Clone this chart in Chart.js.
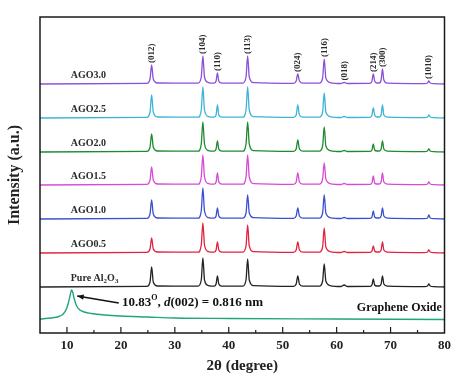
<!DOCTYPE html>
<html>
<head>
<meta charset="utf-8">
<script src="https://cdn.jsdelivr.net/npm/chart.js@4.4.1/dist/chart.umd.min.js"></script>
<style>
  html, body { margin: 0; padding: 0; background: #ffffff; }
  #wrap { width: 456px; height: 376px; }
</style>
</head>
<body>
<div id="wrap"><canvas id="xrd" width="456" height="376"></canvas></div>
<script>
// 2θ sampling shared by the alumina-based patterns (points around each reflection)
const twoTheta = [
  5,
  24.8, 25.4, 25.7, 26.0, 26.8,
  34.3, 34.9, 35.2, 35.5, 36.2,
  37.3, 37.65, 37.9, 38.15, 38.7,
  42.6, 43.2, 43.5, 43.8, 44.6,
  52.0, 52.5, 52.8, 53.1, 53.8,
  56.8, 57.4, 57.7, 58.0, 58.9,
  60.8, 61.4, 62.0,
  66.2, 66.55, 66.8, 67.05, 67.45,
  67.9, 68.25, 68.5, 68.75, 69.4,
  76.3, 76.85, 77.1, 77.35, 78.1,
  80
];

// Intensities (a.u.) above each pattern's own baseline
const ago30 = [0, 0.6,5,19,5,1, 0.8,7,28,7,1.4, 0.8,3,11,3,0.8, 0.8,7,28,7,1.4, 0.6,3,10,3,0.8, 0.8,6,25,6,1.2, 0.5,1.5,0.5, 0.6,3,10,3,1, 1,4,15,4,0.8, 0.4,1,3,1,0.3, 0];
const ago25 = [0, 0.6,6,23,6,1, 0.8,8,31,8,1.4, 0.8,3,13,3,0.8, 0.8,8,31,8,1.4, 0.6,3,13,3,0.8, 0.8,6,25,6,1.2, 0.5,1.5,0.5, 0.6,3,10,3,1, 1,3,13,3,0.8, 0.4,1,3,1,0.3, 0];
const ago20 = [0, 0.6,5,18,5,1, 0.8,8,30,8,1.4, 0.8,3,11,3,0.8, 0.8,8,30,8,1.4, 0.6,3,12,3,0.8, 0.8,6,25,6,1.2, 0.5,1.5,0.5, 0.6,2,8,2,1, 1,3,11,3,0.8, 0.4,1,3,1,0.3, 0];
const ago15 = [0, 0.6,5,18,5,1, 0.8,8,30,8,1.4, 0.8,3,12,3,0.8, 0.8,8,30,8,1.4, 0.6,3,12,3,0.8, 0.8,6,22,6,1.2, 0.5,1.5,0.5, 0.6,2,9,2,1, 1,3,12,3,0.8, 0.4,1,3,1,0.3, 0];
const ago10 = [0, 0.6,5,19,5,1, 0.8,8,31,8,1.4, 0.8,3,11,3,0.8, 0.8,6,24,6,1.4, 0.6,3,11,3,0.8, 0.8,6,24,6,1.2, 0.5,1.5,0.5, 0.6,2,8,2,1, 1,3,11,3,0.8, 0.4,1,4,1,0.3, 0];
const ago05 = [0, 0.6,4,15,4,1, 0.8,8,30,8,1.4, 0.8,3,11,3,0.8, 0.8,7,28,7,1.4, 0.6,3,11,3,0.8, 0.8,6,25,6,1.2, 0.5,1.5,0.5, 0.6,2,7,2,1, 1,3,11,3,0.8, 0.4,1,3,1,0.3, 0];
const pureAl2O3 = [0, 0.6,5,20,5,1, 0.8,7,29,7,1.4, 0.8,3,11,3,0.8, 0.8,7,28,7,1.4, 0.6,3,11,3,0.8, 0.8,6,23,6,1.2, 0.5,2,0.5, 0.6,2,8,2,1, 1,3,11,3,0.8, 0.4,1,3,1,0.3, 0];

// Graphene oxide pattern (absolute, bottom of the stack)
const goTheta     = [5, 7, 8.5, 9.3, 9.9, 10.3, 10.6, 10.83, 11.05, 11.35, 11.8, 12.4, 13.2, 14.5, 17, 20, 25, 30, 40, 60, 80];
const goIntensity = [14, 15, 16.5, 19, 24, 31, 38, 43, 41, 34, 27, 23, 21, 19.5, 18, 17, 16, 15, 14.5, 14, 13.5];

// Stack order (top to bottom), vertical offsets and colours
const seriesNames   = ['AGO3.0', 'AGO2.5', 'AGO2.0', 'AGO1.5', 'AGO1.0', 'AGO0.5', 'Pure Al_2O_3'];
const seriesValues  = [ago30, ago25, ago20, ago15, ago10, ago05, pureAl2O3];
const seriesOffsets = [249, 215, 181, 148, 114, 80, 46];
const seriesColors  = ['#8a50d8', '#3bb4d8', '#1f8a30', '#d84ad6', '#3a50cf', '#e0233f', '#222222'];
const goColor = '#1fa57f';

// Reflection indices marked above the top pattern
const hklLabels = ['(012)', '(104)', '(110)', '(113)', '(024)', '(116)', '(018)', '(214)', '(300)', '(1010)'];
const hklTheta  = [25.7, 35.2, 37.9, 43.5, 52.8, 57.7, 61.4, 66.8, 68.5, 77.1];
const hklIndex  = [3, 8, 13, 18, 23, 28, 32, 36, 41, 46];

const xTicks = [10, 20, 30, 40, 50, 60, 70, 80];

const SERIF = '"Liberation Serif", "DejaVu Serif", serif';

const datasets = seriesValues.map((vals, i) => ({
  label: seriesNames[i],
  data: twoTheta.map((t, k) => ({ x: t, y: vals[k] + seriesOffsets[i] })),
  borderColor: seriesColors[i],
  borderWidth: 1.3,
  pointRadius: 0,
  cubicInterpolationMode: 'monotone',
  fill: false
}));
datasets.push({
  label: 'Graphene Oxide',
  data: goTheta.map((t, k) => ({ x: t, y: goIntensity[k] })),
  borderColor: goColor,
  borderWidth: 1.4,
  pointRadius: 0,
  cubicInterpolationMode: 'monotone',
  fill: false
});

// draws text where "_n" marks a subscript character
function drawRich(ctx, text, x, y, size) {
  let cx = x;
  const parts = text.split(/(_.)/);
  parts.forEach(p => {
    if (!p) return;
    if (p[0] === '_') {
      ctx.font = `bold ${Math.round(size * 0.7)}px ${SERIF}`;
      ctx.fillText(p[1], cx, y + size * 0.3);
      cx += ctx.measureText(p[1]).width;
    } else {
      ctx.font = `bold ${size}px ${SERIF}`;
      ctx.fillText(p, cx, y);
      cx += ctx.measureText(p).width;
    }
  });
}

const overlay = {
  id: 'overlay',
  afterDatasetsDraw(chart) {
    const { ctx, chartArea: a, scales: { x, y } } = chart;
    ctx.save();

    // frame
    ctx.strokeStyle = '#1a1a1a';
    ctx.lineWidth = 1.5;
    ctx.strokeRect(a.left, a.top, a.right - a.left, a.bottom - a.top);

    // inward tick marks on the bottom axis
    ctx.lineWidth = 1.2;
    x.ticks.forEach(t => {
      const px = x.getPixelForValue(t.value);
      if (px <= a.left + 1 || px >= a.right - 1) return;
      const len = t.value % 10 === 0 ? 6 : 3;
      ctx.beginPath();
      ctx.moveTo(px, a.bottom);
      ctx.lineTo(px, a.bottom - len);
      ctx.stroke();
    });

    // pattern names
    ctx.fillStyle = '#2a2a2a';
    ctx.textBaseline = 'middle';
    ctx.textAlign = 'left';
    seriesNames.forEach((name, i) => {
      const px = x.getPixelForValue(10.7);
      const py = y.getPixelForValue(seriesOffsets[i] + 9);
      drawRich(ctx, name, px, py, 10);
    });

    // hkl labels, rotated, above the top pattern
    ctx.font = `bold 9px ${SERIF}`;
    ctx.fillStyle = '#2a2a2a';
    hklLabels.forEach((lab, i) => {
      const px = x.getPixelForValue(hklTheta[i]);
      const top = seriesValues[0][hklIndex[i]] + seriesOffsets[0];
      const py = y.getPixelForValue(top) - 2;
      ctx.save();
      ctx.translate(px, py);
      ctx.rotate(-Math.PI / 2);
      ctx.textAlign = 'left';
      ctx.textBaseline = 'middle';
      ctx.fillText(lab, 0, 0);
      ctx.restore();
    });

    // arrow to the GO (002) reflection
    const hx = x.getPixelForValue(11.9), hy = y.getPixelForValue(37);
    const tx = x.getPixelForValue(19.6), ty = y.getPixelForValue(30);
    ctx.strokeStyle = '#111';
    ctx.fillStyle = '#111';
    ctx.lineWidth = 1.3;
    ctx.beginPath();
    ctx.moveTo(tx, ty);
    ctx.lineTo(hx, hy);
    ctx.stroke();
    const ang = Math.atan2(hy - ty, hx - tx);
    ctx.beginPath();
    ctx.moveTo(hx, hy);
    ctx.lineTo(hx - 7 * Math.cos(ang - 0.4), hy - 7 * Math.sin(ang - 0.4));
    ctx.lineTo(hx - 7 * Math.cos(ang + 0.4), hy - 7 * Math.sin(ang + 0.4));
    ctx.closePath();
    ctx.fill();

    // annotation text: 10.83°, d(002) = 0.816 nm
    let cx = x.getPixelForValue(20.2);
    const cy = y.getPixelForValue(30);
    ctx.textAlign = 'left';
    ctx.textBaseline = 'middle';
    ctx.fillStyle = '#111';
    ctx.font = `bold 13px ${SERIF}`;
    ctx.fillText('10.83', cx, cy); cx += ctx.measureText('10.83').width;
    ctx.font = `bold 8px ${SERIF}`;
    ctx.fillText('O', cx, cy - 5); cx += ctx.measureText('O').width;
    ctx.font = `bold 13px ${SERIF}`;
    ctx.fillText(', ', cx, cy); cx += ctx.measureText(', ').width;
    ctx.font = `italic bold 13px ${SERIF}`;
    ctx.fillText('d', cx, cy); cx += ctx.measureText('d').width;
    ctx.font = `bold 13px ${SERIF}`;
    ctx.fillText('(002) = 0.816 nm', cx, cy);

    // GO label
    ctx.font = `bold 12px ${SERIF}`;
    ctx.textAlign = 'right';
    ctx.fillText('Graphene Oxide', x.getPixelForValue(79.5), y.getPixelForValue(25));

    ctx.restore();
  }
};

new Chart(document.getElementById('xrd'), {
  type: 'line',
  data: { datasets },
  options: {
    responsive: false,
    animation: false,
    devicePixelRatio: 1,
    layout: { padding: { left: 1, top: 17, right: 7, bottom: 0 } },
    plugins: { legend: { display: false }, tooltip: { enabled: false } },
    scales: {
      x: {
        type: 'linear',
        min: 5,
        max: 80,
        grid: { display: false, drawTicks: false },
        border: { display: false },
        ticks: {
          stepSize: 5,
          padding: 5,
          color: '#222',
          font: { family: SERIF, size: 13, weight: 'bold' },
          maxRotation: 0,
          autoSkip: false,
          callback: v => (xTicks.includes(v) ? String(v) : '')
        },
        title: {
          display: true,
          text: '2θ (degree)',
          color: '#222',
          font: { family: SERIF, size: 15, weight: 'bold' },
          padding: { top: 2, bottom: 1 }
        },
        afterFit: s => { s.height = 43; }
      },
      y: {
        type: 'linear',
        min: 0,
        max: 316,
        grid: { display: false, drawTicks: false },
        border: { display: false },
        ticks: { display: false },
        title: {
          display: true,
          text: 'Intensity (a.u.)',
          color: '#222',
          font: { family: SERIF, size: 16, weight: 'bold' },
          padding: { top: 4, bottom: 4 }
        },
        afterFit: s => { s.width = 39; }
      }
    }
  },
  plugins: [overlay]
});
</script>
</body>
</html>
